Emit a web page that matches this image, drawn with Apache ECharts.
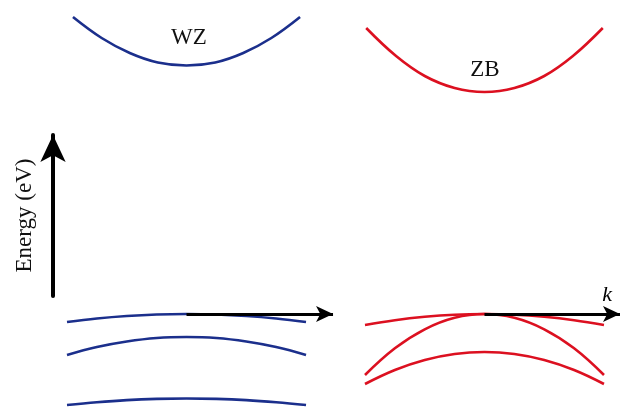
<!DOCTYPE html>
<html>
<head>
<meta charset="utf-8">
<script src="https://cdn.jsdelivr.net/npm/echarts@6/dist/echarts.min.js"></script>
<style>
  html, body { margin: 0; background: #fff; }
  #chart { width: 622px; height: 407px; }
</style>
</head>
<body>
<div id="chart"></div>
<script>
// k in units of the drawn half-width, energies in arbitrary eV-like units (VBM = 0)
const kValence = [-1, -0.75, -0.5, -0.25, 0, 0.25, 0.5, 0.75, 1];
const kCondWZ = [-0.95, -0.71, -0.475, -0.24, 0, 0.24, 0.475, 0.71, 0.95];
const kCondZB = [-0.99, -0.74, -0.5, -0.25, 0, 0.25, 0.5, 0.74, 0.99];

// wurtzite
const wzCB = [2.97, 2.76, 2.61, 2.515, 2.485, 2.515, 2.61, 2.76, 2.97];
const wzA = [-0.08, -0.045, -0.02, -0.005, 0, -0.005, -0.02, -0.045, -0.08];
const wzB = [-0.41, -0.33, -0.275, -0.24, -0.23, -0.24, -0.275, -0.33, -0.41];
const wzC = [-0.91, -0.882, -0.861, -0.849, -0.845, -0.849, -0.861, -0.882, -0.91];

// zinc blende
const zbCB = [2.86, 2.58, 2.38, 2.26, 2.22, 2.26, 2.38, 2.58, 2.86];
const zbHH = [-0.11, -0.062, -0.028, -0.007, 0, -0.007, -0.028, -0.062, -0.11];
const zbLH = [-0.61, -0.343, -0.153, -0.038, 0, -0.038, -0.153, -0.343, -0.61];
const zbSO = [-0.70, -0.56, -0.46, -0.40, -0.38, -0.40, -0.46, -0.56, -0.70];

const blue = "#1b2f8c";
const red = "#dc1020";
const serif = "'Liberation Serif', 'Times New Roman', Times, serif";

function pairs(ks, es) {
  return ks.map((k, i) => [k, es[i]]);
}

function band(name, grid, ks, es, color) {
  return {
    name: name,
    type: "line",
    xAxisIndex: grid,
    yAxisIndex: grid,
    data: pairs(ks, es),
    smooth: 0.4,
    showSymbol: false,
    silent: true,
    lineStyle: { color: color, width: 2.6 }
  };
}

function kArrow(grid, kEnd, label) {
  return {
    type: "line",
    xAxisIndex: grid,
    yAxisIndex: grid,
    data: [],
    z: 5,
    markLine: {
      silent: true,
      animation: false,
      symbol: ["none", "arrow"],
      symbolSize: [12, 17],
      lineStyle: { color: "#000", width: 3, type: "solid" },
      label: {
        show: !!label,
        formatter: label || "",
        position: "insideEndTop",
        distance: [8, 8],
        color: "#000",
        fontFamily: serif,
        fontStyle: "italic",
        fontSize: 22
      },
      data: [[{ coord: [0, 0] }, { coord: [kEnd, 0] }]]
    }
  };
}

function panelLabel(grid, text, k, e) {
  return {
    type: "line",
    xAxisIndex: grid,
    yAxisIndex: grid,
    data: [],
    markPoint: {
      silent: true,
      animation: false,
      symbolSize: 0,
      label: {
        show: true,
        position: "inside",
        formatter: text,
        color: "#111",
        fontFamily: serif,
        fontSize: 23
      },
      data: [{ coord: [k, e] }]
    }
  };
}

const chart = echarts.init(document.getElementById("chart"));
const hidden = { show: false };

chart.setOption({
  animation: false,
  backgroundColor: "#fff",
  grid: [
    { left: 43.1, top: 0, width: 292.8, height: 407 },
    { left: 341.1, top: 0, width: 280.8, height: 407 },
    { left: 53, top: 135, width: 10, height: 161 }
  ],
  xAxis: [
    { type: "value", gridIndex: 0, min: -1.2, max: 1.25, ...hidden },
    { type: "value", gridIndex: 1, min: -1.2, max: 1.15, ...hidden },
    { type: "value", gridIndex: 2, min: 0, max: 1, ...hidden }
  ],
  yAxis: [
    { type: "value", gridIndex: 0, min: -0.93, max: 3.14, ...hidden },
    { type: "value", gridIndex: 1, min: -0.93, max: 3.14, ...hidden },
    {
      type: "value",
      gridIndex: 2,
      min: 0,
      max: 1,
      position: "left",
      name: "Energy (eV)",
      nameLocation: "middle",
      nameRotate: 90,
      nameGap: 17,
      nameTextStyle: { fontFamily: serif, fontSize: 23, color: "#111" },
      axisLine: {
        show: true,
        symbol: ["none", "arrow"],
        symbolSize: [19, 27],
        lineStyle: { color: "#000", width: 4 }
      },
      axisTick: { show: false },
      axisLabel: { show: false },
      splitLine: { show: false }
    }
  ],
  series: [
    band("WZ CB", 0, kCondWZ, wzCB, blue),
    band("WZ A", 0, kValence, wzA, blue),
    band("WZ B", 0, kValence, wzB, blue),
    band("WZ C", 0, kValence, wzC, blue),
    band("ZB CB", 1, kCondZB, zbCB, red),
    band("ZB HH", 1, kValence, zbHH, red),
    band("ZB LH", 1, kValence, zbLH, red),
    band("ZB SO", 1, kValence, zbSO, red),
    kArrow(0, 1.226, null),
    kArrow(1, 1.134, "k"),
    panelLabel(0, "WZ", 0.02, 2.76),
    panelLabel(1, "ZB", 0.004, 2.44)
  ]
});
</script>
</body>
</html>
